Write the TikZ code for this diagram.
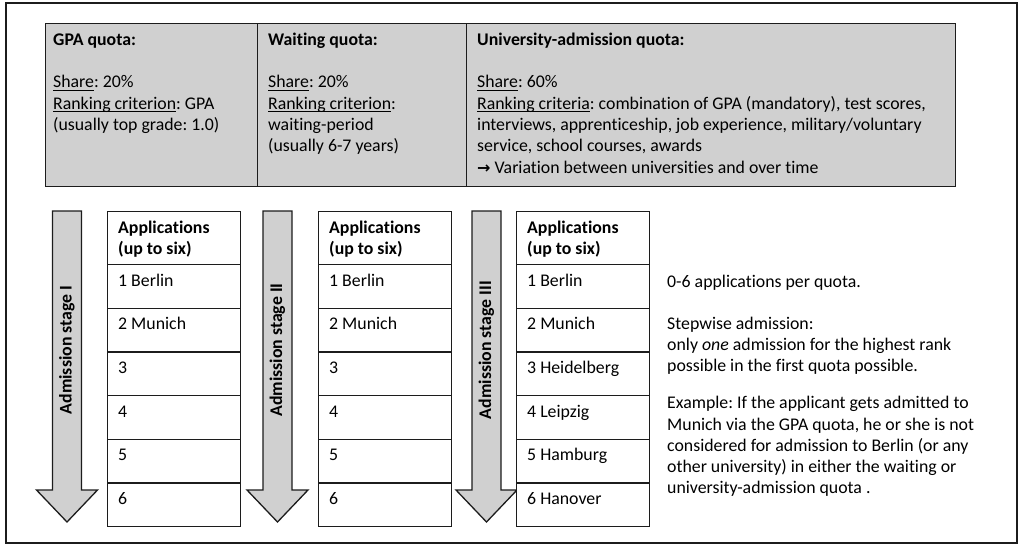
\documentclass[tikz,border=0pt]{standalone}
\usepackage{fontspec}
\setmainfont{Carlito}[Ligatures=NoCommon]
\newfontfamily\symfont{DejaVu Sans}
\newcommand\myul[1]{\setbox0\hbox{#1}\rlap{\rule[-2.8pt]{\wd0}{1pt}}\box0}
\definecolor{boxgray}{HTML}{D0D0D0}
\definecolor{linecol}{HTML}{1C1C1C}
\frenchspacing
\begin{document}
\begin{tikzpicture}[x=1pt,y=-1pt,
  frame/.style={draw=linecol, line width=2.6pt},
  quotabox/.style={draw=linecol, line width=1.3pt, fill=boxgray, rectangle, inner sep=0pt, anchor=north west},
  txt/.style={font=\fontsize{17.8}{21.3}\selectfont, align=left, inner sep=0pt, anchor=north west, text=black},
  cell/.style={draw=linecol, line width=1.3pt, fill=white, rectangle, inner sep=0pt, anchor=north west, minimum width=133pt, minimum height=43.67pt},
  celltxt/.style={font=\fontsize{17.8}{21.3}\selectfont, inner sep=0pt, anchor=base west, text=black},
  stagearrow/.style={draw=linecol, line width=1.3pt, fill=boxgray, line join=miter},
  stagelbl/.style={font=\fontsize{17.8}{21.3}\selectfont\bfseries, inner sep=0pt, rotate=90, text=black}
]
\useasboundingbox (0,0) rectangle (1021,546);
\draw[frame] (6,3) rectangle (1017,543);

% quota boxes
\node[quotabox, minimum width=212pt, minimum height=163pt] (gpa) at (45,23) {};
\node[quotabox, minimum width=211pt, minimum height=163pt] (wait) at (257,23) {};
\node[quotabox, minimum width=489pt, minimum height=163pt] (uni) at (466,22.5) {};

\node[txt] (gpatxt) at (53,30.1) {\strut\textbf{GPA quota:}\\ \mbox{}\\ \myul{Share}: 20\%\\ \myul{Ranking criterion}: GPA\\ (usually top grade: 1.0)};
\node[txt] (waittxt) at (268,30.1) {\strut\textbf{Waiting quota:}\\ \mbox{}\\ \myul{Share}: 20\%\\ \myul{Ranking criterion}:\\ waiting-period\\ (usually 6-7 years)};
\node[txt] (unitxt) at (477,30.1) {\strut\textbf{University-admission quota:}\\ \mbox{}\\ \myul{Share}: 60\%\\ \myul{Ranking criteria}: combination of GPA (mandatory), test scores,\\ interviews, apprenticeship, job experience, military/voluntary\\ service, school courses, awards\\ {\symfont\bfseries\fontsize{16}{21.3}\selectfont →} Variation between universities and over time};

% stage arrows
\foreach \c/\n/\lab in {67/1/I, 277.5/2/II, 486.5/3/III}{
  \draw[stagearrow] (\c-14.5,211) -- (\c+14.5,211) -- (\c+14.5,490) -- (\c+30.5,490) -- (\c,522) -- (\c-30.5,490) -- (\c-14.5,490) -- cycle;
  \node[stagelbl] (stage\n) at (\c,350) {Admission stage \lab};
}

% application tables
\foreach \tx/\tn/\cities in {107/1/{1 Berlin,2 Munich,3,4,5,6}, 318/2/{1 Berlin,2 Munich,3,4,5,6}, 516/3/{1 Berlin,2 Munich,3 Heidelberg,4 Leipzig,5 Hamburg,6 Hanover}}{
  \node[cell, minimum height=53pt] (t\tn h) at (\tx,211) {};
  \node[txt, font=\fontsize{17.8}{21.3}\selectfont\bfseries] (t\tn ht) at (\tx+11,218.1) {\strut Applications\\ (up to six)};
  \foreach \lab [count=\r] in \cities {
    \node[cell] (t\tn r\r) at (\tx,{264+(\r-1)*43.67}) {};
    \node[celltxt] (t\tn l\r) at (\tx+11,{264+(\r-1)*43.67+22}) {\lab};
  }
}

% explanatory text
\node[txt] (note1) at (667,272.1) {\strut 0-6 applications per quota.};
\node[txt] (note2) at (667,314.1) {\strut Stepwise admission:\\ only \emph{one} admission for the highest rank\\ possible in the first quota possible.};
\node[txt] (note3) at (667,393.6) {\strut Example: If the applicant gets admitted to\\ Munich via the GPA quota, he or she is not\\ considered for admission to Berlin (or any\\ other university) in either the waiting or\\ university-admission quota .};
\end{tikzpicture}
\end{document}
